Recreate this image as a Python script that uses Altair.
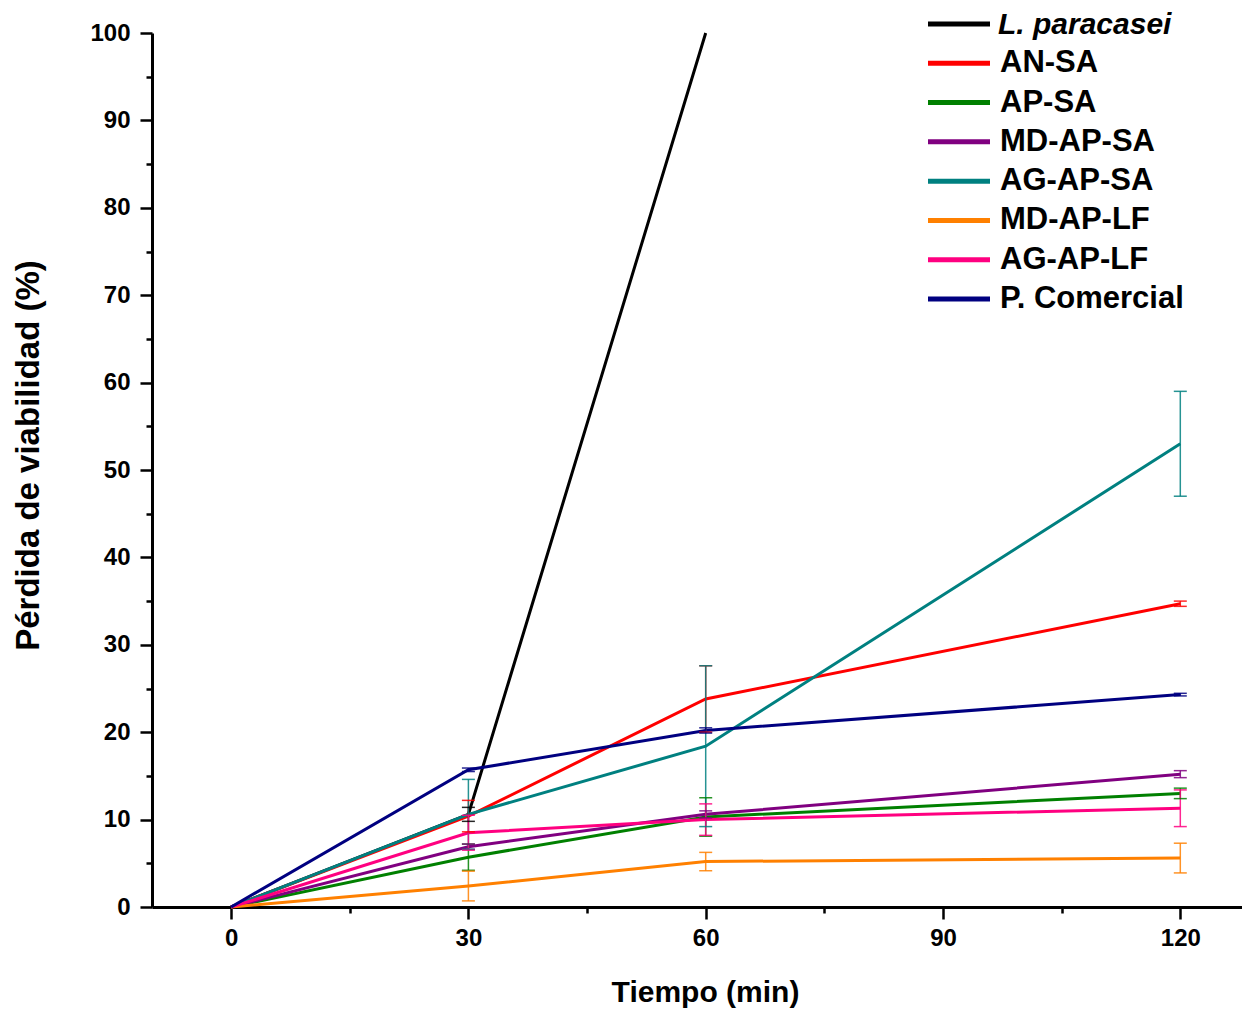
import altair as alt
import pandas as pd

names = ["L. paracasei", "AN-SA", "AP-SA", "MD-AP-SA", "AG-AP-SA", "MD-AP-LF", "AG-AP-LF", "P. Comercial"]
colors = ["#000000", "#FF0000", "#008000", "#800080", "#008080", "#FF8000", "#FF0080", "#000080"]

times = [0, 30, 60, 120]
times_lp = [0, 30, 60]

lp_vals = [0, 10.6, 100]
lp_err = [0, 0.8, 0]
ansa_vals = [0, 10.4, 23.8, 34.7]
ansa_err = [0, 1.8, 3.8, 0.3]
apsa_vals = [0, 5.7, 10.3, 13.0]
apsa_err = [0, 1.5, 2.2, 0.6]
mdapsa_vals = [0, 6.9, 10.6, 15.2]
mdapsa_err = [0, 0.3, 0.4, 0.4]
agapsa_vals = [0, 10.6, 18.4, 53.0]
agapsa_err = [0, 4.0, 9.2, 6.0]
mdaplf_vals = [0, 2.4, 5.2, 5.6]
mdaplf_err = [0, 1.7, 1.05, 1.7]
agaplf_vals = [0, 8.5, 10.0, 11.3]
agaplf_err = [0, 2.0, 1.8, 2.1]
pcom_vals = [0, 15.7, 20.2, 24.3]
pcom_err = [0, 0.2, 0.3, 0.15]

x_major = [0, 30, 60, 90, 120]
x_minor = [15, 45, 75, 105]
y_major = [0, 10, 20, 30, 40, 50, 60, 70, 80, 90, 100]
y_minor = [5, 15, 25, 35, 45, 55, 65, 75, 85, 95]

series = [
    (names[0], times_lp, lp_vals, lp_err),
    (names[1], times, ansa_vals, ansa_err),
    (names[2], times, apsa_vals, apsa_err),
    (names[3], times, mdapsa_vals, mdapsa_err),
    (names[4], times, agapsa_vals, agapsa_err),
    (names[5], times, mdaplf_vals, mdaplf_err),
    (names[6], times, agaplf_vals, agaplf_err),
    (names[7], times, pcom_vals, pcom_err),
]
rows = []
for i, (n, ts, vs, es) in enumerate(series):
    for t, v, e in zip(ts, vs, es):
        rows.append({"series": n, "ord": i, "time": t, "value": v, "err": e})
df = pd.DataFrame(rows)
leg_df = pd.DataFrame({"series": names})

FONT = "Liberation Sans"
xscale = alt.Scale(domain=[-10, 127.8], nice=False, zero=False)
yscale = alt.Scale(domain=[0, 100], nice=False, zero=False)
cscale = alt.Scale(domain=names, range=colors)

x_main = alt.Axis(values=x_major, orient="bottom", grid=False, tickSize=12, tickWidth=2.5,
                  tickColor="black", domainColor="black", domainWidth=3,
                  labelFont=FONT, labelFontSize=24, labelFontWeight="bold", labelColor="black",
                  labelPadding=7, labelFlush=False, labelOverlap=False,
                  title="Tiempo (min)", titleFont=FONT, titleFontSize=30, titleFontWeight="bold",
                  titleColor="black", titlePadding=27, titleX=553)
y_main = alt.Axis(values=y_major, orient="left", grid=False, tickSize=12, tickWidth=2.5,
                  tickColor="black", domainColor="black", domainWidth=3,
                  labelFont=FONT, labelFontSize=24, labelFontWeight="bold", labelColor="black",
                  labelPadding=10, labelFlush=False, labelOverlap=False,
                  title="Pérdida de viabilidad (%)", titleFont=FONT, titleFontSize=33,
                  titleFontWeight="bold", titleColor="black", titlePadding=44, titleY=422)
x_min_ax = alt.Axis(values=x_minor, orient="bottom", grid=False, labels=False, domain=False,
                    tickSize=6, tickWidth=2.5, tickColor="black", title=None)
y_min_ax = alt.Axis(values=y_minor, orient="left", grid=False, labels=False, domain=False,
                    tickSize=6, tickWidth=2.5, tickColor="black", title=None)

color = alt.Color("series:N", scale=cscale, legend=None)

lines = alt.Chart(df).mark_line(strokeWidth=3).encode(
    x=alt.X("time:Q", scale=xscale, axis=x_main),
    y=alt.Y("value:Q", scale=yscale, axis=y_main),
    color=color,
    detail="series:N",
)

err_base = alt.Chart(df).transform_filter("datum.err > 0").transform_calculate(
    lo="datum.value - datum.err", hi="datum.value + datum.err"
)
rules = err_base.mark_rule(strokeWidth=1.5, opacity=0.85).encode(
    x=alt.X("time:Q", scale=xscale, axis=None),
    y=alt.Y("lo:Q", scale=yscale, axis=None),
    y2="hi:Q",
    color=color,
)
tick_lo = err_base.mark_tick(orient="horizontal", size=13, thickness=1.5, opacity=0.85).encode(
    x=alt.X("time:Q", scale=xscale, axis=None),
    y=alt.Y("lo:Q", scale=yscale, axis=None),
    color=color,
)
tick_hi = err_base.mark_tick(orient="horizontal", size=13, thickness=1.5, opacity=0.85).encode(
    x=alt.X("time:Q", scale=xscale, axis=None),
    y=alt.Y("hi:Q", scale=yscale, axis=None),
    color=color,
)
minor = alt.Chart(df).mark_point(opacity=0).encode(
    x=alt.X("time:Q", scale=xscale, axis=x_min_ax),
    y=alt.Y("value:Q", scale=yscale, axis=y_min_ax),
)

leg_y = alt.Y("series:N", scale=alt.Scale(type="point", domain=names, range=[-9, 266], padding=0),
              axis=None)
leg_rule = alt.Chart(leg_df).mark_rule(strokeWidth=5).encode(
    x=alt.value(776), x2=alt.value(838), y=leg_y, color=color,
)
leg_text = alt.Chart(leg_df).transform_filter(alt.datum.series != names[0]).mark_text(
    align="left", baseline="middle", font=FONT, fontSize=31, fontWeight="bold", color="black"
).encode(x=alt.value(848), y=leg_y, text="series:N")
leg_text_it = alt.Chart(leg_df).transform_filter(alt.datum.series == names[0]).mark_text(
    align="left", baseline="middle", font=FONT, fontSize=30, fontWeight="bold",
    fontStyle="italic", color="black", dy=1
).encode(x=alt.value(846), y=leg_y, text="series:N")

chart = alt.layer(
    lines, rules, tick_lo, tick_hi, minor, leg_rule, leg_text, leg_text_it
).resolve_scale(y="independent").resolve_axis(x="independent", y="independent").properties(
    width=1090, height=874,
    autosize=alt.AutoSizeParams(type="none"),
    padding={"left": 144, "top": 25, "right": 0, "bottom": 101},
).configure_view(stroke=None)

chart.save("out.html", embed_options={"renderer": "svg", "actions": False})
